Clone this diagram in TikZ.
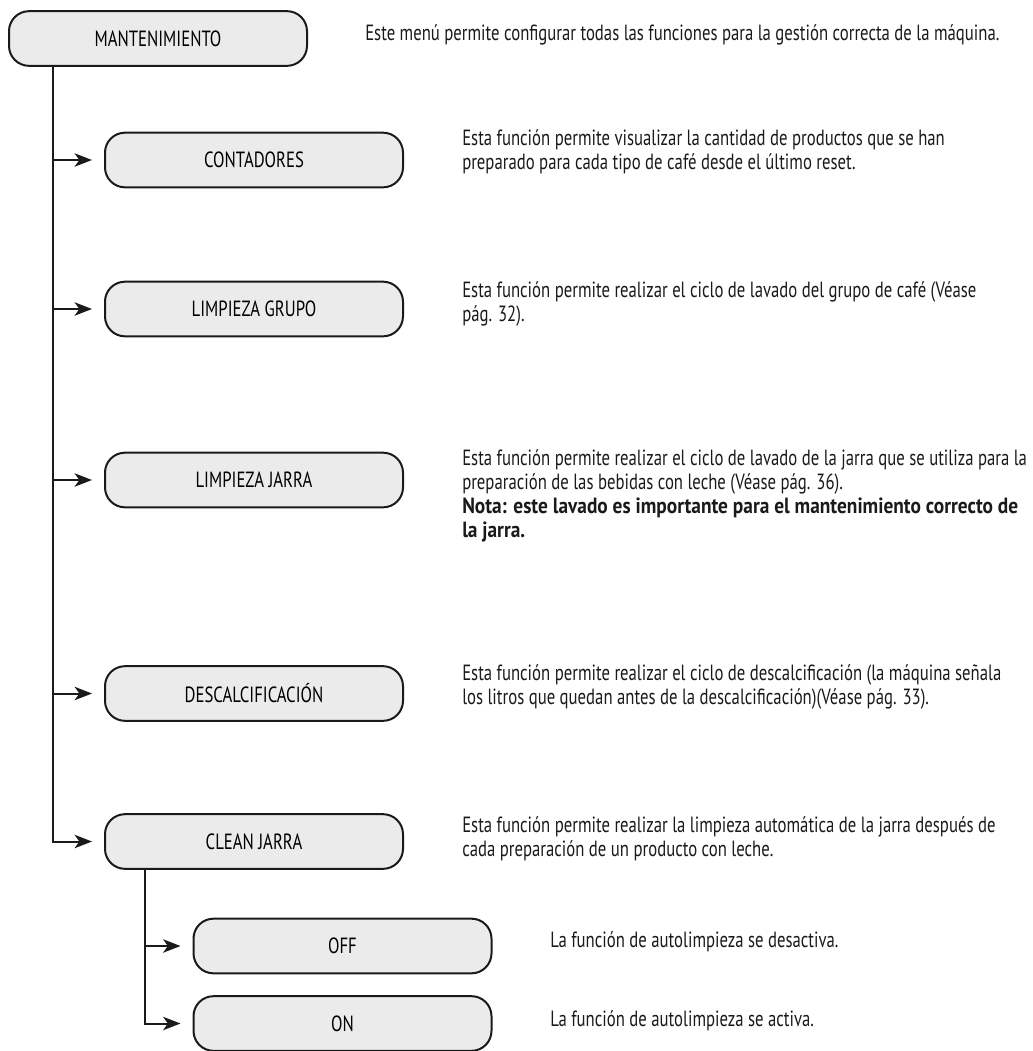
\documentclass[tikz,border=0pt]{standalone}
\usepackage{fontspec}
\setmainfont{PT Sans}[FakeStretch=0.76,BoldFeatures={FakeStretch=0.88}]
\usepackage{tikz}
\usetikzlibrary{arrows.meta,positioning}
\definecolor{mnfill}{HTML}{EBEBEB}
\definecolor{mnink}{HTML}{1A1A1A}
\tikzset{
  menu/.style={draw=mnink,fill=mnfill,line width=1.5pt,rounded corners=15pt,
    minimum width=223.5pt,minimum height=41pt,font=\fontsize{16.5}{18}\selectfont},
  desc/.style={anchor=base west,align=left,inner sep=0pt,text=mnink,
    font=\fontsize{16.5}{18}\selectfont},
  link/.style={draw=mnink,line width=1.5pt},
  arr/.style={link,-{Stealth[length=13pt,width=10pt,inset=3.5pt]},shorten >=9pt},
}

\begin{document}
\begin{tikzpicture}[x=0.75pt,y=-0.75pt]
\useasboundingbox (0,0) rectangle (1033,1051);
% menu boxes
\node[menu] (mant) at (158,38.5) {MANTENIMIENTO};
\node[menu] (cont) at (254,160) {CONTADORES};
\node[menu] (grupo) at (254,309) {LIMPIEZA GRUPO};
\node[menu] (jarra) at (254,480) {LIMPIEZA JARRA};
\node[menu] (descal) at (254,693.5) {DESCALCIFICACIÓN};
\node[menu] (clean) at (254,841.5) {CLEAN JARRA};
\node[menu] (cjoff) at (342.5,946) {OFF};
\node[menu] (cjon) at (342.5,1023.5) {ON};
% texts (anchored at the baseline of the last line)
\node[desc] (tmant) at (365,40) {Este menú permite configurar todas las funciones para la gestión correcta de la máquina.};
\node[desc] (tcont) at (462,169) {Esta función permite visualizar la cantidad de productos que se han\\preparado para cada tipo de café desde el último reset.};
\node[desc] (tgrupo) at (462,321) {Esta función permite realizar el ciclo de lavado del grupo de café (Véase\\pág. 32).};
\node[desc] (tjarra) at (462,537) {Esta función permite realizar el ciclo de lavado de la jarra que se utiliza para la\\preparación de las bebidas con leche (Véase pág. 36).\\\textbf{Nota: este lavado es importante para el mantenimiento correcto de}\\\textbf{la jarra.}};
\node[desc] (tdescal) at (462,704) {Esta función permite realizar el ciclo de descalcificación (la máquina señala\\los litros que quedan antes de la descalcificación)(Véase pág. 33).};
\node[desc] (tclean) at (462,856) {Esta función permite realizar la limpieza automática de la jarra después de\\cada preparación de un producto con leche.};
\node[desc] (toff) at (550,947) {La función de autolimpieza se desactiva.};
\node[desc] (ton) at (550,1026) {La función de autolimpieza se activa.};
% connectors
\coordinate (trunk) at (53,0);
\coordinate (subtrunk) at (145,0);
\draw[arr] (mant.south -| trunk) |- (clean.west);
\foreach \n in {cont,grupo,jarra,descal}
  \draw[arr] (\n.west -| trunk) -- (\n.west);
\draw[arr] (clean.south -| subtrunk) |- (cjon.west);
\draw[arr] (cjoff.west -| subtrunk) -- (cjoff.west);
\end{tikzpicture}
\end{document}
